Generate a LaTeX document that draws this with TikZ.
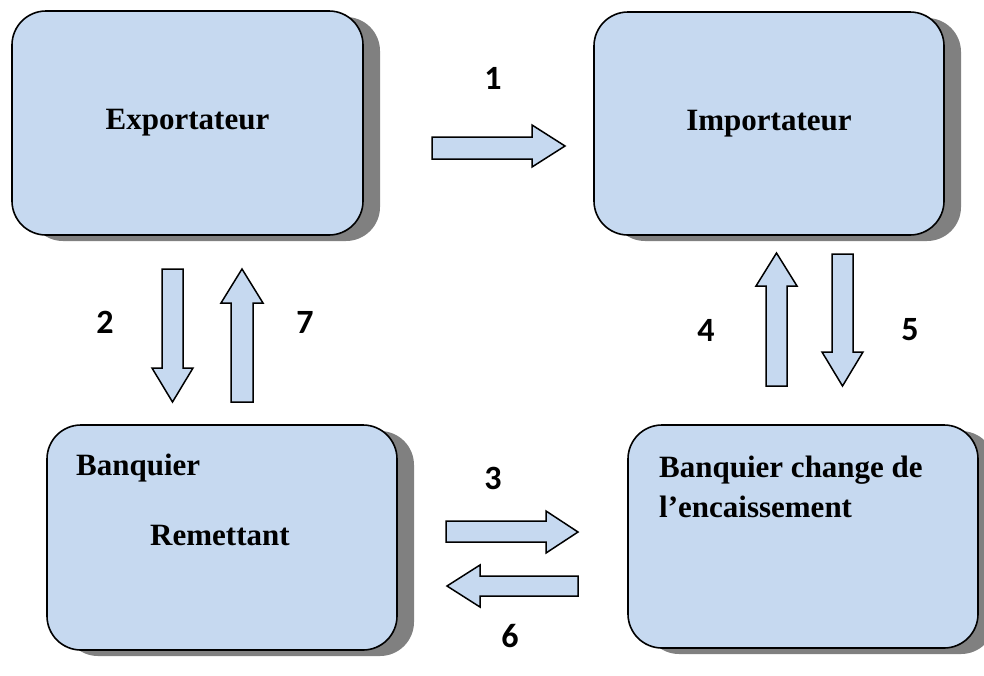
\documentclass[tikz,border=0pt]{standalone}
\usepackage{fontspec}
\setmainfont{Liberation Serif}
\newfontfamily\numfont{Carlito}
\usetikzlibrary{shadows}
\definecolor{boxblue}{RGB}{198,217,240}
\definecolor{shadowgray}{RGB}{128,128,128}
\tikzset{
  actor/.style={draw=black, line width=1.6pt, fill=boxblue, rounded corners=34pt,
    inner sep=0pt,
    drop shadow={shadow xshift=17pt, shadow yshift=-6pt, fill=shadowgray, opacity=1}},
  boxtext/.style={font=\bfseries\fontsize{31}{36}\selectfont, inner sep=0pt},
  barrow/.style={draw=black, line width=1.5pt, fill=boxblue, line join=miter},
  numlbl/.style={font=\numfont\bfseries\fontsize{34}{38}\selectfont, inner sep=0pt}
}
\begin{document}
\begin{tikzpicture}[x=1pt,y=-1pt]
\useasboundingbox (0,0) rectangle (984,675);
% boxes
\node[actor, minimum width=351pt, minimum height=224pt] (exp) at (187.5,123) {};
\node[actor, minimum width=350pt, minimum height=223pt] (imp) at (769,123.5) {};
\node[actor, minimum width=350pt, minimum height=225pt] (rem) at (222,537.5) {};
\node[actor, minimum width=350pt, minimum height=223pt] (enc) at (803,536.5) {};
% box texts
\node[boxtext] (texp) at (exp.center) {Exportateur};
\node[boxtext] (timp) at (imp.center) {Importateur};
\node[boxtext, anchor=base west] (trem1) at (76,475) {Banquier};
\node[boxtext, anchor=base west] (trem2) at (150,545) {Remettant};
\node[boxtext, anchor=base west] (tenc1) at (659,477) {Banquier change de};
\node[boxtext, anchor=base west] (tenc2) at (659,517) {l’encaissement};
% block arrows
\draw[barrow] (432,137) -- (532,137) -- (532,125) -- (565,146) -- (532,167) -- (532,159) -- (432,159) -- cycle;
\draw[barrow] (162,269) -- (183,269) -- (183,368) -- (193,368) -- (172.5,402) -- (152,368) -- (162,368) -- cycle;
\draw[barrow] (231,402) -- (231,303) -- (221,303) -- (242,269) -- (263,303) -- (253,303) -- (253,402) -- cycle;
\draw[barrow] (766,386) -- (766,286) -- (756,286) -- (776.5,253) -- (797,286) -- (787,286) -- (787,386) -- cycle;
\draw[barrow] (832,254) -- (853,254) -- (853,352) -- (863,352) -- (842.5,386) -- (822,352) -- (832,352) -- cycle;
\draw[barrow] (446,521) -- (546,521) -- (546,511) -- (578,532) -- (546,553) -- (546,542) -- (446,542) -- cycle;
\draw[barrow] (578,576) -- (480,576) -- (480,565) -- (447,586) -- (480,607) -- (480,596) -- (578,596) -- cycle;
% labels
\node[numlbl] (n1) at (493,78) {1};
\node[numlbl] (n2) at (105,322) {2};
\node[numlbl] (n7) at (305,322) {7};
\node[numlbl] (n4) at (706,330) {4};
\node[numlbl] (n5) at (910,330) {5};
\node[numlbl] (n3) at (493,478) {3};
\node[numlbl] (n6) at (510,636) {6};
\end{tikzpicture}
\end{document}
